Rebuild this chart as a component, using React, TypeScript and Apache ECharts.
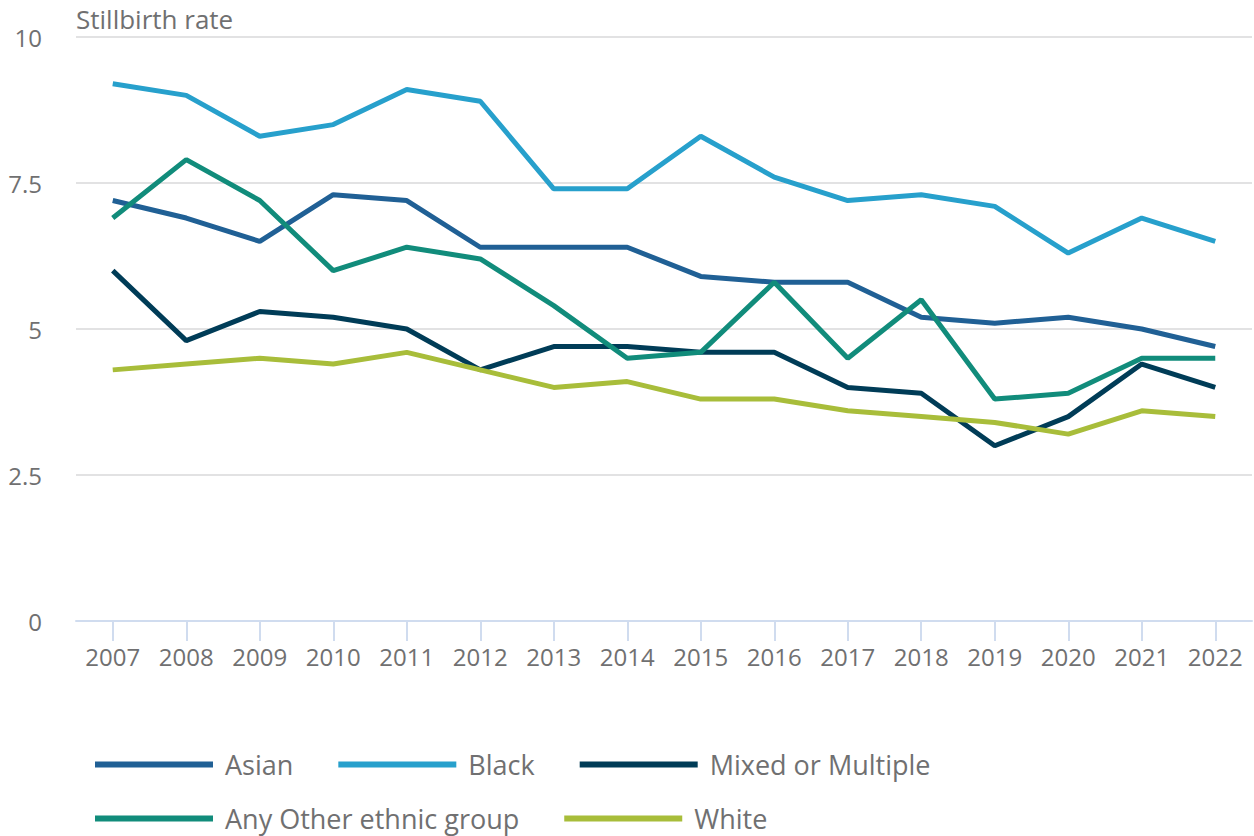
import React, { useEffect, useRef } from "react";
import * as echarts from "echarts";

const years = ["2007","2008","2009","2010","2011","2012","2013","2014","2015","2016","2017","2018","2019","2020","2021","2022"];
const asian = [7.2,6.9,6.5,7.3,7.2,6.4,6.4,6.4,5.9,5.8,5.8,5.2,5.1,5.2,5.0,4.7];
const black = [9.2,9.0,8.3,8.5,9.1,8.9,7.4,7.4,8.3,7.6,7.2,7.3,7.1,6.3,6.9,6.5];
const mixed = [6.0,4.8,5.3,5.2,5.0,4.3,4.7,4.7,4.6,4.6,4.0,3.9,3.0,3.5,4.4,4.0];
const other = [6.9,7.9,7.2,6.0,6.4,6.2,5.4,4.5,4.6,5.8,4.5,5.5,3.8,3.9,4.5,4.5];
const white = [4.3,4.4,4.5,4.4,4.6,4.3,4.0,4.1,3.8,3.8,3.6,3.5,3.4,3.2,3.6,3.5];
const yTicks = [0, 2.5, 5, 7.5, 10];

const seriesDefs = [
  { name: "Asian", data: asian, color: "#206095" },
  { name: "Black", data: black, color: "#27a0cc" },
  { name: "Mixed or Multiple", data: mixed, color: "#003c57" },
  { name: "Any Other ethnic group", data: other, color: "#118c7b" },
  { name: "White", data: white, color: "#a8bd3a" },
];

const FONT = "'Open Sans', sans-serif";
const TXT = "#707071";

export default function App() {
  const ref = useRef<HTMLDivElement>(null);
  useEffect(() => {
    if (!ref.current) return;
    const chart = echarts.init(ref.current, null, { renderer: "svg" });
    const legendCommon = {
      orient: "horizontal",
      itemWidth: 118,
      itemHeight: 6,
      itemGap: 45,
      icon: "rect",
      padding: 0,
      textStyle: { fontFamily: FONT, fontSize: 27, color: TXT, padding: [0, 0, 0, 7] },
    };
    chart.setOption({
      animation: false,
      textStyle: { fontFamily: FONT },
      title: {
        text: "Stillbirth rate",
        left: 71,
        top: 1,
        textStyle: { fontFamily: FONT, fontSize: 26, fontWeight: "normal", color: TXT },
      },
      grid: { left: 76, right: 2, top: 37, bottom: 215, containLabel: false },
      legend: [
        { ...legendCommon, left: 95, top: 751, data: ["Asian", "Black", "Mixed or Multiple"] },
        { ...legendCommon, left: 95, top: 805, data: ["Any Other ethnic group", "White"] },
      ],
      xAxis: {
        type: "category",
        data: years,
        boundaryGap: true,
        axisLine: { show: true, lineStyle: { color: "#d0dcef", width: 2 } },
        axisTick: { show: true, alignWithLabel: true, length: 20, lineStyle: { color: "#d0dcef", width: 2 } },
        axisLabel: { fontFamily: FONT, fontSize: 24, color: TXT, margin: 23, interval: 0 },
        splitLine: { show: false },
      },
      yAxis: {
        type: "value",
        min: yTicks[0],
        max: yTicks[yTicks.length - 1],
        interval: 2.5,
        axisLine: { show: false },
        axisTick: { show: false },
        axisLabel: { fontFamily: FONT, fontSize: 24, color: TXT, margin: 34, verticalAlign: "middle" },
        splitLine: { show: true, lineStyle: { color: "#e2e2e3", width: 2 } },
      },
      series: seriesDefs.map((s) => ({
        name: s.name,
        type: "line",
        data: s.data,
        symbol: "none",
        showSymbol: false,
        color: s.color,
        lineStyle: { color: s.color, width: 5 },
        itemStyle: { color: s.color },
      })),
    });
    return () => chart.dispose();
  }, []);
  return <div ref={ref} style={{ width: 1254, height: 836, position: "absolute", left: 0, top: 0 }} />;
}
